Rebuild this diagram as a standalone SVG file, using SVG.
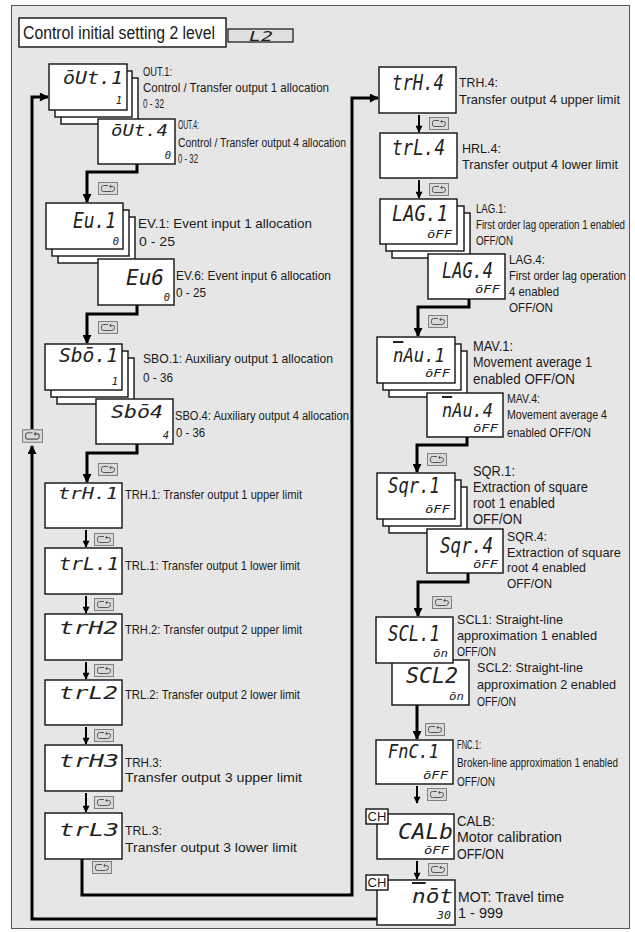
<svg xmlns="http://www.w3.org/2000/svg" width="635" height="932" viewBox="0 0 635 932">
<defs>
<style>
.bg{fill:#e6e6e6;stroke:#555;stroke-width:1}
.box{fill:#fff;stroke:#111;stroke-width:1.4}
.t{font-family:"Liberation Sans",Arial,sans-serif;fill:#1a1a1a}
.seg{font-family:"DejaVu Sans Mono",monospace;font-style:italic;font-weight:normal;fill:#222;text-anchor:end}
.val{font-family:"DejaVu Sans Mono",monospace;font-style:italic;font-weight:normal;fill:#222;text-anchor:end;font-size:10.5px}
.ov{text-decoration:overline}
.cn{fill:none;stroke:#000;stroke-width:3}
.cn2{fill:none;stroke:#000;stroke-width:2}
</style>
<marker id="ah" viewBox="0 0 10 10" refX="9" refY="5" markerWidth="10" markerHeight="9" markerUnits="userSpaceOnUse" orient="auto"><path d="M0,0 L10,5 L0,10z" fill="#000"/></marker>
<marker id="ah2" viewBox="0 0 10 10" refX="9" refY="5" markerWidth="8" markerHeight="7" markerUnits="userSpaceOnUse" orient="auto"><path d="M0,0 L10,5 L0,10z" fill="#000"/></marker>
<symbol id="key" viewBox="0 0 20 13"><rect x="0.5" y="0.5" width="19" height="12" fill="#d9d9d9" stroke="#808080"/><path d="M10,3.5 H5.5 Q3.5,3.5 3.5,5.5 V7.5 Q3.5,9.5 5.5,9.5 H13.5 Q16.5,9.5 16.5,6.5 Q16.5,4.5 14.5,4.5 H12 M13.2,3 L11.6,4.5 L13.2,6" fill="none" stroke="#555" stroke-width="1"/></symbol>
</defs>
<rect x="0" y="0" width="635" height="932" fill="#fff"/>
<rect class="bg" x="11.5" y="5.5" width="618" height="923"/>

<g id="header">
<rect x="19" y="18" width="207" height="29" fill="#fff" stroke="#111" stroke-width="1.4"/>
<text class="t" x="23" y="39" font-size="17.5" textLength="192" lengthAdjust="spacingAndGlyphs">Control initial setting 2 level</text>
<rect x="228" y="29" width="65" height="13" fill="#e0e0e0" stroke="#111" stroke-width="1.2"/>
<text class="seg" x="273" y="41" font-size="14" font-weight="bold" textLength="24" lengthAdjust="spacingAndGlyphs">L2</text>
</g>

<g id="connectors">
<path class="cn" d="M137,164 V172 H87 V202" marker-end="url(#ah)"/>
<use href="#key" x="98" y="182" width="20" height="13"/>
<path class="cn" d="M137,305 V314 H87 V343" marker-end="url(#ah)"/>
<use href="#key" x="98" y="321" width="20" height="13"/>
<path class="cn" d="M137,444 V453 H87 V482" marker-end="url(#ah)"/>
<use href="#key" x="98" y="463" width="20" height="13"/>
<path class="cn2" d="M86,530 V547" marker-end="url(#ah2)"/>
<use href="#key" x="94" y="533" width="20" height="13"/>
<path class="cn2" d="M86,596 V613" marker-end="url(#ah2)"/>
<use href="#key" x="94" y="598" width="20" height="13"/>
<path class="cn2" d="M86,662 V679" marker-end="url(#ah2)"/>
<use href="#key" x="94" y="664" width="20" height="13"/>
<path class="cn2" d="M86,727 V744" marker-end="url(#ah2)"/>
<use href="#key" x="94" y="729" width="20" height="13"/>
<path class="cn2" d="M86,793 V812" marker-end="url(#ah2)"/>
<use href="#key" x="94" y="796" width="20" height="13"/>
<path class="cn" d="M82,859 V895 H352 V98 H378" marker-end="url(#ah)"/>
<use href="#key" x="92" y="861" width="20" height="13"/>
<path class="cn2" d="M419,115 V132" marker-end="url(#ah2)"/>
<use href="#key" x="429" y="117" width="20" height="13"/>
<path class="cn2" d="M419,180 V198" marker-end="url(#ah2)"/>
<use href="#key" x="429" y="183" width="20" height="13"/>
<path class="cn" d="M469,299 V307 H418 V336" marker-end="url(#ah)"/>
<use href="#key" x="428" y="315" width="20" height="13"/>
<path class="cn" d="M467,437 V445 H417 V472" marker-end="url(#ah)"/>
<use href="#key" x="427" y="453" width="20" height="13"/>
<path class="cn" d="M468,573 V582 H418 V616" marker-end="url(#ah)"/>
<use href="#key" x="432" y="596" width="20" height="13"/>
<path class="cn" d="M417,705 V739" marker-end="url(#ah)"/>
<use href="#key" x="425" y="723" width="20" height="13"/>
<path class="cn2" d="M417,786 V803" marker-end="url(#ah2)"/>
<use href="#key" x="427" y="788" width="20" height="13"/>
<path class="cn2" d="M417,861 V879" marker-end="url(#ah2)"/>
<use href="#key" x="428" y="863" width="20" height="13"/>
<path class="cn" d="M377,919 H32 V446" marker-end="url(#ah)"/>
<use href="#key" x="22" y="429" width="21" height="14"/>
<path class="cn" d="M32,429 V97 H48" marker-end="url(#ah)"/>
</g>

<g id="out1">
<rect class="box" x="61" y="78" width="77" height="46"/>
<rect class="box" x="55" y="71" width="77" height="46"/>
<rect class="box" x="49" y="64" width="78" height="46"/>
<text class="seg" x="123" y="84" font-size="17" textLength="60" lengthAdjust="spacingAndGlyphs">ōUt.1</text>
<text class="val" x="122" y="104">1</text>
<text class="t" x="143" y="76" font-size="13" textLength="29" lengthAdjust="spacingAndGlyphs">OUT.1:</text>
<text class="t" x="143" y="92" font-size="13" textLength="186" lengthAdjust="spacingAndGlyphs">Control / Transfer output 1 allocation</text>
<text class="t" x="143" y="108" font-size="13" textLength="21" lengthAdjust="spacingAndGlyphs">0 - 32</text>
</g>
<g id="out4">
<rect class="box" x="98" y="119" width="77" height="45"/>
<text class="seg" x="168" y="136" font-size="16" textLength="57" lengthAdjust="spacingAndGlyphs">ōUt.4</text>
<text class="val" x="171" y="159">0</text>
<text class="t" x="178" y="129" font-size="12" textLength="21" lengthAdjust="spacingAndGlyphs">OUT.4:</text>
<text class="t" x="178" y="147" font-size="12" textLength="168" lengthAdjust="spacingAndGlyphs">Control / Transfer output 4 allocation</text>
<text class="t" x="178" y="163" font-size="12" textLength="20" lengthAdjust="spacingAndGlyphs">0 - 32</text>
</g>

<g id="ev1">
<rect class="box" x="58" y="217" width="77" height="46"/>
<rect class="box" x="52" y="210" width="77" height="46"/>
<rect class="box" x="46" y="203" width="77" height="46"/>
<text class="seg" x="116" y="228" font-size="21" textLength="43" lengthAdjust="spacingAndGlyphs">Eu.1</text>
<text class="val" x="119" y="245">0</text>
<text class="t" x="138" y="228" font-size="13.5" textLength="174" lengthAdjust="spacingAndGlyphs">EV.1: Event input 1 allocation</text>
<text class="t" x="139" y="246" font-size="13.5" textLength="36" lengthAdjust="spacingAndGlyphs">0 - 25</text>
</g>
<g id="ev6">
<rect class="box" x="98" y="259" width="76" height="46"/>
<text class="seg" x="164" y="285" font-size="21" textLength="38" lengthAdjust="spacingAndGlyphs">Eu6</text>
<text class="val" x="170" y="301">0</text>
<text class="t" x="176" y="280" font-size="12.5" textLength="155" lengthAdjust="spacingAndGlyphs">EV.6: Event input 6 allocation</text>
<text class="t" x="176" y="297" font-size="12.5" textLength="30" lengthAdjust="spacingAndGlyphs">0 - 25</text>
</g>

<g id="sbo1">
<rect class="box" x="57" y="358" width="77" height="46"/>
<rect class="box" x="51" y="351" width="77" height="46"/>
<rect class="box" x="45" y="344" width="77" height="46"/>
<text class="seg" x="118" y="362" font-size="19" textLength="59" lengthAdjust="spacingAndGlyphs">Sbō.1</text>
<text class="val" x="118" y="385">1</text>
<text class="t" x="143" y="363" font-size="13" textLength="190" lengthAdjust="spacingAndGlyphs">SBO.1: Auxiliary output 1 allocation</text>
<text class="t" x="143" y="382" font-size="13" textLength="30" lengthAdjust="spacingAndGlyphs">0 - 36</text>
</g>
<g id="sbo4">
<rect class="box" x="96" y="399" width="77" height="45"/>
<text class="seg" x="163" y="418" font-size="18" textLength="52" lengthAdjust="spacingAndGlyphs">Sbō4</text>
<text class="val" x="169" y="439">4</text>
<text class="t" x="175" y="420" font-size="12" textLength="174" lengthAdjust="spacingAndGlyphs">SBO.4: Auxiliary output 4 allocation</text>
<text class="t" x="176" y="437" font-size="12" textLength="29" lengthAdjust="spacingAndGlyphs">0 - 36</text>
</g>

<g id="trh1">
<rect class="box" x="45" y="483" width="77" height="45"/>
<text class="seg" x="118" y="499" font-size="16" textLength="60" lengthAdjust="spacingAndGlyphs">trH.1</text>
<text class="t" x="125" y="499" font-size="13" textLength="177" lengthAdjust="spacingAndGlyphs">TRH.1: Transfer output 1 upper limit</text>
</g>
<g id="trl1">
<rect class="box" x="45" y="548" width="77" height="46"/>
<text class="seg" x="119" y="570" font-size="17" textLength="60" lengthAdjust="spacingAndGlyphs">trL.1</text>
<text class="t" x="125" y="570" font-size="13" textLength="175" lengthAdjust="spacingAndGlyphs">TRL.1: Transfer output 1 lower limit</text>
</g>
<g id="trh2">
<rect class="box" x="45" y="614" width="77" height="46"/>
<text class="seg" x="118" y="634" font-size="17" textLength="59" lengthAdjust="spacingAndGlyphs">trH2</text>
<text class="t" x="125" y="634" font-size="13" textLength="177" lengthAdjust="spacingAndGlyphs">TRH.2: Transfer output 2 upper limit</text>
</g>
<g id="trl2">
<rect class="box" x="45" y="680" width="77" height="45"/>
<text class="seg" x="118" y="699" font-size="17" textLength="59" lengthAdjust="spacingAndGlyphs">trL2</text>
<text class="t" x="125" y="699" font-size="13" textLength="175" lengthAdjust="spacingAndGlyphs">TRL.2: Transfer output 2 lower limit</text>
</g>
<g id="trh3">
<rect class="box" x="45" y="745" width="77" height="46"/>
<text class="seg" x="119" y="767" font-size="18" textLength="60" lengthAdjust="spacingAndGlyphs">trH3</text>
<text class="t" x="125" y="767" font-size="13.5" textLength="37" lengthAdjust="spacingAndGlyphs">TRH.3:</text>
<text class="t" x="125" y="782" font-size="13.5" textLength="177" lengthAdjust="spacingAndGlyphs">Transfer output 3 upper limit</text>
</g>
<g id="trl3">
<rect class="box" x="45" y="813" width="77" height="46"/>
<text class="seg" x="119" y="836" font-size="18" textLength="60" lengthAdjust="spacingAndGlyphs">trL3</text>
<text class="t" x="125" y="835" font-size="13.5" textLength="37" lengthAdjust="spacingAndGlyphs">TRL.3:</text>
<text class="t" x="125" y="852" font-size="13.5" textLength="172" lengthAdjust="spacingAndGlyphs">Transfer output 3 lower limit</text>
</g>

<g id="trh4">
<rect class="box" x="379" y="67" width="77" height="46"/>
<text class="seg" x="444" y="90" font-size="21" textLength="52" lengthAdjust="spacingAndGlyphs">trH.4</text>
<text class="t" x="459" y="87" font-size="13.5" textLength="39" lengthAdjust="spacingAndGlyphs">TRH.4:</text>
<text class="t" x="459" y="104" font-size="13.5" textLength="161" lengthAdjust="spacingAndGlyphs">Transfer output 4 upper limit</text>
</g>
<g id="trl4">
<rect class="box" x="380" y="133" width="77" height="45"/>
<text class="seg" x="445" y="155" font-size="21" textLength="53" lengthAdjust="spacingAndGlyphs">trL.4</text>
<text class="t" x="462" y="153" font-size="13.5" textLength="39" lengthAdjust="spacingAndGlyphs">HRL.4:</text>
<text class="t" x="462" y="169" font-size="13.5" textLength="156" lengthAdjust="spacingAndGlyphs">Transfer output 4 lower limit</text>
</g>
<g id="lag1">
<rect class="box" x="392" y="213" width="78" height="45"/>
<rect class="box" x="386" y="206" width="78" height="45"/>
<rect class="box" x="380" y="199" width="77" height="45"/>
<text class="seg" x="448" y="221" font-size="21" textLength="56" lengthAdjust="spacingAndGlyphs">LAG.1</text>
<text class="val" x="452" y="238" textLength="25" lengthAdjust="spacingAndGlyphs">ōFF</text>
<text class="t" x="476" y="213" font-size="12.5" textLength="30" lengthAdjust="spacingAndGlyphs">LAG.1:</text>
<text class="t" x="476" y="229" font-size="12.5" textLength="149" lengthAdjust="spacingAndGlyphs">First order lag operation 1 enabled</text>
<text class="t" x="476" y="245" font-size="12.5" textLength="37" lengthAdjust="spacingAndGlyphs">OFF/ON</text>
</g>
<g id="lag4">
<rect class="box" x="428" y="254" width="77" height="45"/>
<text class="seg" x="493" y="278" font-size="21" textLength="51" lengthAdjust="spacingAndGlyphs">LAG.4</text>
<text class="val" x="500" y="293" textLength="25" lengthAdjust="spacingAndGlyphs">ōFF</text>
<text class="t" x="509" y="264" font-size="13.5" textLength="36" lengthAdjust="spacingAndGlyphs">LAG.4:</text>
<text class="t" x="509" y="280" font-size="13.5" textLength="117" lengthAdjust="spacingAndGlyphs">First order lag operation</text>
<text class="t" x="509" y="296" font-size="13.5" textLength="50" lengthAdjust="spacingAndGlyphs">4 enabled</text>
<text class="t" x="509" y="312" font-size="13.5" textLength="44" lengthAdjust="spacingAndGlyphs">OFF/ON</text>
</g>
<g id="mav1">
<rect class="box" x="389" y="351" width="78" height="46"/>
<rect class="box" x="383" y="344" width="78" height="46"/>
<rect class="box" x="377" y="337" width="78" height="46"/>
<text class="seg" x="445" y="362" font-size="20" textLength="52" lengthAdjust="spacingAndGlyphs"><tspan class="ov">n</tspan>Au.1</text>
<text class="val" x="450" y="377" textLength="25" lengthAdjust="spacingAndGlyphs">ōFF</text>
<text class="t" x="473" y="351" font-size="14" textLength="40" lengthAdjust="spacingAndGlyphs">MAV.1:</text>
<text class="t" x="473" y="367" font-size="14" textLength="119" lengthAdjust="spacingAndGlyphs">Movement average 1</text>
<text class="t" x="473" y="384" font-size="14" textLength="102" lengthAdjust="spacingAndGlyphs">enabled  OFF/ON</text>
</g>
<g id="mav4">
<rect class="box" x="427" y="393" width="76" height="44"/>
<text class="seg" x="493" y="417" font-size="20" textLength="51" lengthAdjust="spacingAndGlyphs"><tspan class="ov">n</tspan>Au.4</text>
<text class="val" x="498" y="432" textLength="25" lengthAdjust="spacingAndGlyphs">ōFF</text>
<text class="t" x="507" y="403" font-size="12.5" textLength="33" lengthAdjust="spacingAndGlyphs">MAV.4:</text>
<text class="t" x="507" y="419" font-size="12.5" textLength="100" lengthAdjust="spacingAndGlyphs">Movement average 4</text>
<text class="t" x="507" y="437" font-size="12.5" textLength="84" lengthAdjust="spacingAndGlyphs">enabled  OFF/ON</text>
</g>
<g id="sqr1">
<rect class="box" x="389" y="487" width="78" height="46"/>
<rect class="box" x="383" y="480" width="78" height="46"/>
<rect class="box" x="377" y="473" width="78" height="46"/>
<text class="seg" x="440" y="493" font-size="21" textLength="52" lengthAdjust="spacingAndGlyphs">Sqr.1</text>
<text class="val" x="450" y="513" textLength="25" lengthAdjust="spacingAndGlyphs">ōFF</text>
<text class="t" x="473" y="476" font-size="14" textLength="42" lengthAdjust="spacingAndGlyphs">SQR.1:</text>
<text class="t" x="473" y="492" font-size="14" textLength="115" lengthAdjust="spacingAndGlyphs">Extraction of square</text>
<text class="t" x="473" y="508" font-size="14" textLength="82" lengthAdjust="spacingAndGlyphs">root 1 enabled</text>
<text class="t" x="473" y="524" font-size="14" textLength="49" lengthAdjust="spacingAndGlyphs">OFF/ON</text>
</g>
<g id="sqr4">
<rect class="box" x="427" y="529" width="76" height="44"/>
<text class="seg" x="493" y="553" font-size="21" textLength="53" lengthAdjust="spacingAndGlyphs">Sqr.4</text>
<text class="val" x="498" y="568" textLength="25" lengthAdjust="spacingAndGlyphs">ōFF</text>
<text class="t" x="507" y="541" font-size="13.5" textLength="40" lengthAdjust="spacingAndGlyphs">SQR.4:</text>
<text class="t" x="507" y="557" font-size="13.5" textLength="114" lengthAdjust="spacingAndGlyphs">Extraction of square</text>
<text class="t" x="507" y="572" font-size="13.5" textLength="79" lengthAdjust="spacingAndGlyphs">root 4 enabled</text>
<text class="t" x="507" y="588" font-size="13.5" textLength="45" lengthAdjust="spacingAndGlyphs">OFF/ON</text>
</g>
<g id="scl2">
<rect class="box" x="392" y="660" width="77" height="45"/>
<text class="seg" x="458" y="683" font-size="21" textLength="52" lengthAdjust="spacingAndGlyphs">SCL2</text>
<text class="val" x="464" y="700" textLength="15" lengthAdjust="spacingAndGlyphs">ōn</text>
<text class="t" x="477" y="672" font-size="13.5" textLength="106" lengthAdjust="spacingAndGlyphs">SCL2: Straight-line</text>
<text class="t" x="477" y="689" font-size="13.5" textLength="139" lengthAdjust="spacingAndGlyphs">approximation 2 enabled</text>
<text class="t" x="477" y="706" font-size="13.5" textLength="39" lengthAdjust="spacingAndGlyphs">OFF/ON</text>
</g>
<g id="scl1">
<rect class="box" x="376" y="617" width="77" height="46"/>
<text class="seg" x="440" y="641" font-size="21" textLength="52" lengthAdjust="spacingAndGlyphs">SCL.1</text>
<text class="val" x="448" y="657" textLength="15" lengthAdjust="spacingAndGlyphs">ōn</text>
<text class="t" x="457" y="624" font-size="13.5" textLength="106" lengthAdjust="spacingAndGlyphs">SCL1: Straight-line</text>
<text class="t" x="457" y="640" font-size="13.5" textLength="140" lengthAdjust="spacingAndGlyphs">approximation 1 enabled</text>
<text class="t" x="457" y="656" font-size="13.5" textLength="39" lengthAdjust="spacingAndGlyphs">OFF/ON</text>
</g>
<g id="fnc1">
<rect class="box" x="376" y="740" width="77" height="44"/>
<text class="seg" x="439" y="758" font-size="20" textLength="51" lengthAdjust="spacingAndGlyphs">FnC.1</text>
<text class="val" x="448" y="779" textLength="25" lengthAdjust="spacingAndGlyphs">ōFF</text>
<text class="t" x="457" y="749" font-size="12" textLength="24" lengthAdjust="spacingAndGlyphs">FNC.1:</text>
<text class="t" x="457" y="767" font-size="12" textLength="161" lengthAdjust="spacingAndGlyphs">Broken-line approximation 1 enabled</text>
<text class="t" x="457" y="786" font-size="12" textLength="38" lengthAdjust="spacingAndGlyphs">OFF/ON</text>
</g>
<g id="calb">
<rect class="box" x="377" y="814" width="77" height="45"/>
<rect class="box" x="366" y="809" width="22" height="15"/>
<text class="t" x="377" y="821" font-size="13" text-anchor="middle">CH</text>
<text class="seg" x="453" y="839" font-size="21" textLength="55" lengthAdjust="spacingAndGlyphs">CALb</text>
<text class="val" x="449" y="854" textLength="25" lengthAdjust="spacingAndGlyphs">ōFF</text>
<text class="t" x="457" y="826" font-size="14" textLength="38" lengthAdjust="spacingAndGlyphs">CALB:</text>
<text class="t" x="457" y="842" font-size="14" textLength="105" lengthAdjust="spacingAndGlyphs">Motor calibration</text>
<text class="t" x="457" y="859" font-size="14" textLength="47" lengthAdjust="spacingAndGlyphs">OFF/ON</text>
</g>
<g id="mot">
<rect class="box" x="377" y="880" width="78" height="45"/>
<rect class="box" x="366" y="875" width="22" height="15"/>
<text class="t" x="377" y="887" font-size="13" text-anchor="middle">CH</text>
<text class="seg" x="453" y="903" font-size="20" textLength="41" lengthAdjust="spacingAndGlyphs"><tspan class="ov">n</tspan>ōt</text>
<text class="val" x="451" y="919" textLength="14" lengthAdjust="spacingAndGlyphs">30</text>
<text class="t" x="458" y="902" font-size="14" textLength="106" lengthAdjust="spacingAndGlyphs">MOT: Travel time</text>
<text class="t" x="458" y="918" font-size="14" textLength="45" lengthAdjust="spacingAndGlyphs">1 - 999</text>
</g>
</svg>
